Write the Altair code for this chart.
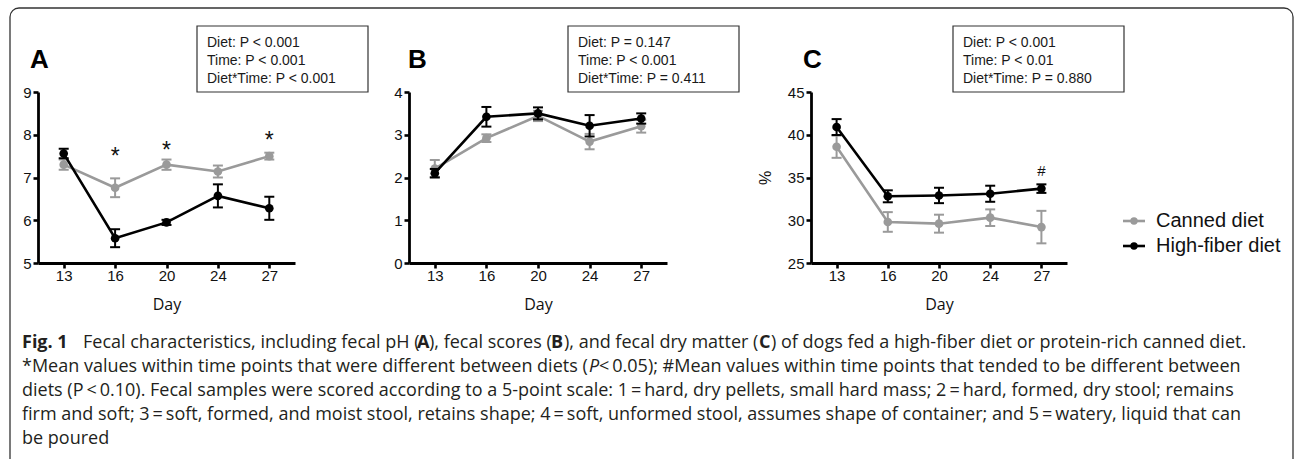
import altair as alt
import pandas as pd

# ---- data -------------------------------------------------------------
days = ["13", "16", "20", "24", "27"]
diets = ["Canned diet", "High-fiber diet"]
diet_colors = ["#9a9a9a", "#000000"]

# Fecal pH (A): mean and SEM
ph_canned = [7.30, 6.76, 7.30, 7.14, 7.50]
ph_canned_se = [0.12, 0.22, 0.12, 0.14, 0.08]
ph_fiber = [7.56, 5.58, 5.95, 6.57, 6.28]
ph_fiber_se = [0.11, 0.21, 0.06, 0.27, 0.27]

# Fecal score (B): mean and SEM
score_canned = [2.21, 2.92, 3.44, 2.84, 3.20]
score_canned_se = [0.20, 0.09, 0.12, 0.18, 0.15]
score_fiber = [2.10, 3.42, 3.50, 3.21, 3.38]
score_fiber_se = [0.10, 0.23, 0.14, 0.25, 0.12]

# Fecal dry matter, % (C): mean and SEM
dm_canned = [38.6, 29.8, 29.6, 30.3, 29.2]
dm_canned_se = [1.30, 1.15, 1.05, 0.97, 1.90]
dm_fiber = [40.9, 32.8, 32.9, 33.1, 33.7]
dm_fiber_se = [0.93, 0.70, 0.90, 0.94, 0.50]

# Days with a diet difference and the height of their marker
ph_sig_days = ["16", "20", "27"]
ph_sig_at = [7.62, 7.76, 7.99]
dm_trend_days = ["27"]
dm_trend_at = [35.9]

stats_a = ["Diet: P < 0.001", "Time: P < 0.001", "Diet*Time: P < 0.001"]
stats_b = ["Diet: P = 0.147", "Time: P < 0.001", "Diet*Time: P = 0.411"]
stats_c = ["Diet: P < 0.001", "Time: P < 0.01", "Diet*Time: P = 0.880"]

caption_lines = [
    [("Fig. 1", "bold", "normal"),
     ("Fecal characteristics, including fecal pH (", "normal", "normal"),
     ("A", "bold", "normal"),
     ("), fecal scores (", "normal", "normal"),
     ("B", "bold", "normal"),
     ("), and fecal dry matter (", "normal", "normal"),
     ("C", "bold", "normal"),
     (") of dogs fed a high-fiber diet or protein-rich canned diet.", "normal", "normal")],
    [("*Mean values within time points that were different between diets (", "normal", "normal"),
     ("P", "normal", "italic"),
     ("\u2009<\u20090.05); #Mean values within time points that tended to be different between", "normal", "normal")],
    [("diets (P\u2009<\u20090.10). Fecal samples were scored according to a 5-point scale: 1\u2009=\u2009hard, dry pellets, small hard mass; 2\u2009=\u2009hard, formed, dry stool; remains", "normal", "normal")],
    [("firm and soft; 3\u2009=\u2009soft, formed, and moist stool, retains shape; 4\u2009=\u2009soft, unformed stool, assumes shape of container; and 5\u2009=\u2009watery, liquid that can", "normal", "normal")],
    [("be poured", "normal", "normal")],
]

# ---- layout -----------------------------------------------------------
W, H = 1295, 459
TOP, BOTTOM = 92, 263
CAP_FONT = "Open Sans"
CAP_SIZE = 18
caption_x = [
    [22, 83, 417, 429, 551, 564, 759, 771],
    [22, 589, 599],
    [22],
    [22],
    [22],
]
caption_y = [348, 372, 396, 420, 444]

one_row = pd.DataFrame({"k": [0]})
color_enc = alt.Color("diet:N", scale=alt.Scale(domain=diets, range=diet_colors), legend=None)


def note(txt, x, y, size, font="Liberation Sans", weight="normal", style="normal",
         align="left", baseline="alphabetic", color="#1a1a1a", line_height=None):
    kw = dict(align=align, baseline=baseline, font=font, fontSize=size,
              fontWeight=weight, fontStyle=style, color=color)
    if line_height:
        kw["lineHeight"] = line_height
    return alt.Chart(one_row).mark_text(**kw).encode(
        x=alt.value(x), y=alt.value(y), text=alt.value(txt))


def box(x0, y0, x1, y1, **kw):
    return alt.Chart(one_row).mark_rect(**kw).encode(
        x=alt.value(x0), x2=alt.value(x1), y=alt.value(y0), y2=alt.value(y1))


AXIS_STYLE = dict(domainColor="#000", tickColor="#000", domainWidth=2.8, tickWidth=2.6,
                  tickSize=5, labelFont="Liberation Sans", labelFontSize=15,
                  labelColor="#111", grid=False)


def panel(canned, canned_se, fiber, fiber_se, ydomain, yvalues, x0, x1,
          marker_days, marker_at, marker_text, marker_size, marker_dy, ytitle=None):
    """Unit layers of one panel; every layer carries the same explicit scales."""
    rows = []
    for diet, means, ses in ((diets[0], canned, canned_se), (diets[1], fiber, fiber_se)):
        for d, m, s in zip(days, means, ses):
            rows.append({"day": d, "diet": diet, "mean": m, "lo": m - s, "hi": m + s})
    df = pd.DataFrame(rows)

    def xs():
        return alt.Scale(type="point", domain=days, range=[x0, x1], padding=0.5)

    def ys():
        return alt.Scale(domain=ydomain, range=[BOTTOM, TOP], nice=False, zero=False)

    x_axis = alt.Axis(orient="bottom", title="Day", labelAngle=0, labelPadding=0,
                      titlePadding=13, titleFont=CAP_FONT, titleFontSize=16,
                      titleFontWeight="normal", titleColor="#111", **AXIS_STYLE)
    y_kw = dict(orient="left", offset=-x0, values=yvalues, labelPadding=2, **AXIS_STYLE)
    if ytitle:
        y_kw.update(title=ytitle, titlePadding=14, titleFontSize=16, titleFont="Liberation Sans",
                    titleFontWeight="normal", titleColor="#111")
    else:
        y_kw.update(title=None)
    y_axis = alt.Axis(**y_kw)

    layers = []
    for i, diet in enumerate(diets):
        base = alt.Chart(df).transform_filter(alt.datum.diet == diet)
        if i == 0:
            layers.append(base.mark_rule(strokeWidth=2).encode(
                x=alt.X("day:O", scale=xs(), axis=x_axis),
                y=alt.Y("lo:Q", scale=ys(), axis=y_axis), y2="hi:Q", color=color_enc))
        else:
            layers.append(base.mark_rule(strokeWidth=2).encode(
                x=alt.X("day:O", scale=xs(), axis=None),
                y=alt.Y("lo:Q", scale=ys(), axis=None), y2="hi:Q", color=color_enc))
        for end in ("lo", "hi"):
            layers.append(base.mark_tick(size=10, thickness=2, opacity=1).encode(
                x=alt.X("day:O", scale=xs(), axis=None),
                y=alt.Y(f"{end}:Q", scale=ys(), axis=None), color=color_enc))
        layers.append(base.mark_line(strokeWidth=2.6).encode(
            x=alt.X("day:O", scale=xs(), axis=None),
            y=alt.Y("mean:Q", scale=ys(), axis=None), color=color_enc))
        layers.append(base.mark_circle(size=75, opacity=1).encode(
            x=alt.X("day:O", scale=xs(), axis=None),
            y=alt.Y("mean:Q", scale=ys(), axis=None), color=color_enc))

    if marker_days:
        mk = pd.DataFrame({"day": marker_days, "at": marker_at})
        layers.append(alt.Chart(mk).mark_text(text=marker_text, fontSize=marker_size,
                                              font="Liberation Sans", baseline="middle",
                                              dy=marker_dy, color="#111").encode(
            x=alt.X("day:O", scale=xs(), axis=None),
            y=alt.Y("at:Q", scale=ys(), axis=None)))
    return layers


panel_a = panel(ph_canned, ph_canned_se, ph_fiber, ph_fiber_se, [5, 9], [5, 6, 7, 8, 9],
                38, 295, ph_sig_days, ph_sig_at, "*", 23, 6)
panel_b = panel(score_canned, score_canned_se, score_fiber, score_fiber_se, [0, 4], [0, 1, 2, 3, 4],
                409, 667, [], [], "*", 23, 6)
panel_c = panel(dm_canned, dm_canned_se, dm_fiber, dm_fiber_se, [25, 45], [25, 30, 35, 40, 45],
                811, 1067, dm_trend_days, dm_trend_at, "#", 15, 1, ytitle="%")

# legend
leg = pd.DataFrame({"diet": diets})


def leg_y():
    return alt.Y("diet:N", scale=alt.Scale(type="point", domain=diets, range=[221, 246], padding=0),
                 axis=None)


legend = [
    alt.Chart(leg).mark_rule(strokeWidth=2.6).encode(
        x=alt.value(1123), x2=alt.value(1145), y=leg_y(), color=color_enc),
    alt.Chart(leg).mark_circle(size=55, opacity=1).encode(
        x=alt.value(1134), y=leg_y(), color=color_enc),
    alt.Chart(leg).mark_text(align="left", baseline="middle", font="Liberation Sans",
                             fontSize=20, color="#111").encode(
        x=alt.value(1156), y=leg_y(), text="diet:N"),
]

border = box(10, 8, 1293, 490, cornerRadius=9, fill="#ffffff", fillOpacity=0,
             stroke="#333333", strokeWidth=1.3)

decor = []
for (bx, stats) in ((197, stats_a), (568, stats_b), (953, stats_c)):
    decor.append(box(bx, 26, bx + 171, 92, fill="#ffffff", stroke="#333333", strokeWidth=1.2))
    decor.append(note(stats, bx + 10, 47, 14, line_height=18))

for letter, lx in (("A", 30), ("B", 408), ("C", 803)):
    decor.append(note(letter, lx, 68, 26, weight="bold", color="#000"))

for segs, xs_, y in zip(caption_lines, caption_x, caption_y):
    for (txt, weight, style), x in zip(segs, xs_):
        decor.append(note(txt, x, y, CAP_SIZE, font=CAP_FONT, weight=weight, style=style,
                          color="#231f20"))

# The view ends at the x axes; the space below it is padding used by the caption.
chart = alt.layer(
    border, *panel_a, *panel_b, *panel_c, *legend, *decor
).resolve_scale(
    x="independent", y="independent"
).resolve_axis(
    x="independent", y="independent"
).properties(
    width=W, height=BOTTOM,
    padding={"left": 0, "top": 0, "right": 0, "bottom": H - BOTTOM},
    autosize=alt.AutoSizeParams(type="none"),
    background="#ffffff"
).configure_view(
    strokeWidth=0
)

chart.save("out.html", embed_options={"renderer": "svg", "actions": False})
